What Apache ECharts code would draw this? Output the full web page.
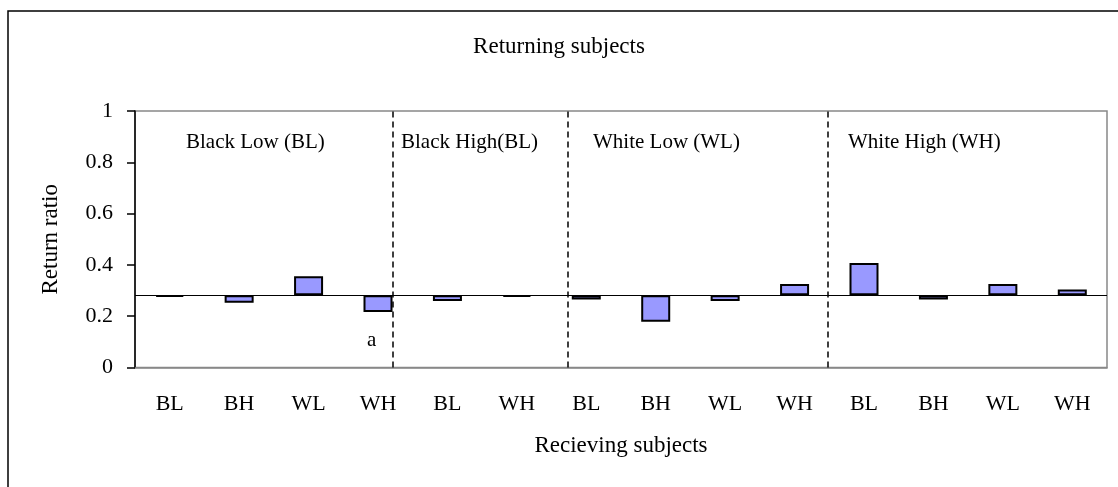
<!DOCTYPE html>
<html>
<head>
<meta charset="utf-8">
<script src="https://cdn.jsdelivr.net/npm/echarts@6/dist/echarts.min.js"></script>
<style>
    html, body {margin: 0; padding: 0; background: #fff;}
    #main {width: 1118px; height: 487px;}
</style>
</head>
<body>
<div id="main"></div>
<script>
    var categories = ['BL', 'BH', 'WL', 'WH', 'BL', 'WH', 'BL', 'BH', 'WL', 'WH', 'BL', 'BH', 'WL', 'WH'];
    var returnRatio = [0.275, 0.252, 0.356, 0.216, 0.259, 0.275, 0.265, 0.178, 0.259, 0.326, 0.407, 0.265, 0.326, 0.304];
    var baseline = 0.282;
    var groupNames = ['Black Low (BL)', 'Black High(BL)', 'White Low (WL)', 'White High (WH)'];
    // divider positions, in category widths from the left of the plot
    var dividerPos = [3.71, 6.23, 9.98];
    var yTicks = {min: 0, max: 1, step: 0.2};

    var font = 'Liberation Serif, Times New Roman, serif';

    var lower = [], diff = [];
    for (var i in returnRatio) {
        lower.push(Math.min(returnRatio[i], baseline));
        diff.push(Math.abs(returnRatio[i] - baseline));
    }

    var groupLeft = [186, 401, 593, 848];
    var groupText = [];
    for (var g in groupNames) {
        groupText.push({
            type: 'text', left: groupLeft[g], top: 132,
            style: {text: groupNames[g], font: '21px ' + font, fill: '#000'}
        });
    }

    var myChart = echarts.init(document.getElementById('main'));
    var option = {
        animation: false,
        backgroundColor: '#fff',
        title: {
            text: 'Returning subjects', left: 'center', top: 30,
            textStyle: {fontFamily: font, fontSize: 23, fontWeight: 'normal', color: '#000'}
        },
        graphic: [
            {type: 'rect', shape: {x: 8, y: 11, width: 1130, height: 500},
             style: {fill: 'none', stroke: '#000', lineWidth: 1.5}, silent: true},
            {type: 'text', left: 367, top: 330,
             style: {text: 'a', font: '21px ' + font, fill: '#000'}}
        ].concat(groupText),
        grid: {
            left: 135, top: 111, right: 11, bottom: 119.5,
            show: true, borderColor: '#888', borderWidth: 1.5, backgroundColor: 'transparent'
        },
        xAxis: [
            {
                type: 'category',
                data: categories,
                name: 'Recieving subjects',
                nameLocation: 'middle',
                nameGap: 67,
                nameTextStyle: {fontFamily: font, fontSize: 23, color: '#000', verticalAlign: 'top'},
                axisLine: {lineStyle: {color: '#888', width: 1.5}},
                axisTick: {show: false},
                axisLabel: {fontFamily: font, fontSize: 22, color: '#000', margin: 26, interval: 0}
            },
            {
                type: 'value', min: 0, max: categories.length, show: false
            }
        ],
        yAxis: {
            type: 'value',
            min: yTicks.min, max: yTicks.max, interval: yTicks.step,
            name: 'Return ratio',
            nameLocation: 'middle',
            nameGap: 73,
            nameTextStyle: {fontFamily: font, fontSize: 23, color: '#000'},
            axisLine: {show: true, lineStyle: {color: '#000', width: 1.5}},
            axisTick: {show: true, length: 8, lineStyle: {color: '#000', width: 1.5}},
            axisLabel: {fontFamily: font, fontSize: 22, color: '#000', margin: 22},
            splitLine: {show: false}
        },
        series: [
            {
                type: 'bar', stack: 'r', data: lower, barWidth: 29,
                itemStyle: {color: 'transparent'}, silent: true
            },
            {
                type: 'bar', stack: 'r', data: diff, barWidth: 29,
                itemStyle: {color: '#9999FF', borderColor: '#000', borderWidth: 2},
                markLine: {
                    silent: true, symbol: 'none', label: {show: false},
                    lineStyle: {color: '#000', width: 1, type: 'solid'},
                    data: [{yAxis: baseline}]
                }
            },
            {
                type: 'line', xAxisIndex: 1, data: [], silent: true,
                markLine: {
                    silent: true, symbol: 'none', label: {show: false},
                    lineStyle: {color: '#000', width: 1.5, type: [6, 4]},
                    data: dividerPos.map(function (p) { return {xAxis: p}; })
                }
            }
        ]
    };
    myChart.setOption(option);
</script>
</body>
</html>
